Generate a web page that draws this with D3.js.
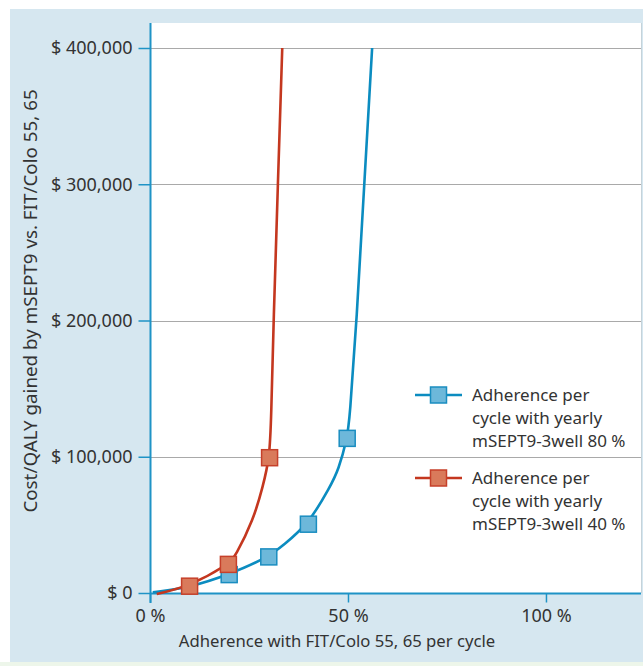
<!DOCTYPE html>
<html><head><meta charset="utf-8">
<script src="https://cdn.jsdelivr.net/npm/d3@7"></script>
<style>body{margin:0;background:#fff}svg{display:block}text{font-family:"Noto Sans",sans-serif;fill:#333}</style>
</head><body>
<svg id="c" width="643" height="666"></svg>
<script>
// ---- data ----
const yTicks = [0, 100000, 200000, 300000, 400000];
const xTicks = [0, 50, 100];
const seriesNames = ["Adherence per cycle with yearly mSEPT9-3well 80 %", "Adherence per cycle with yearly mSEPT9-3well 40 %"];
// markers (adherence %, cost/QALY $)
const blueMarkers = [[20, 13500], [30, 26500], [40, 50500], [49.8, 113500]];
const redMarkers = [[10, 5000], [19.8, 21000], [30.2, 99300]];
// traced curve points
const blueCurve = [[0.7, 500], [10, 4000], [20, 13500], [30, 26500], [33.7, 35200], [40, 50500], [45.5, 78000], [47.6, 90300], [49.8, 113500], [50.4, 127000], [52.2, 200000], [54.1, 300000], [56.1, 400000]];
const redCurve = [[1.7, -700], [10, 5000], [19.8, 21000], [21.5, 26600], [26.1, 53600], [28.5, 78000], [30.2, 99300], [30.6, 127000], [31.2, 200000], [32.3, 300000], [33.4, 400000]];

const svg = d3.select("#c");
const BLUE = "#0b8cc0", RED = "#c4371f";
const axisBlue = "#1f93c6";

svg.append("rect").attr("x", 0).attr("y", 0).attr("width", 643).attr("height", 666).attr("fill", "#fff");
svg.append("rect").attr("x", 0).attr("y", 662).attr("width", 643).attr("height", 4).attr("fill", "#edf6ea");
svg.append("rect").attr("x", 10).attr("y", 9).attr("width", 633).attr("height", 653).attr("fill", "#d6e7f0");

const x = d3.scaleLinear().domain([0, 124]).range([150, 641]);
const y = d3.scaleLinear().domain([0, 400000]).range([593, 48]);

svg.append("rect").attr("x", 150).attr("y", 23).attr("width", 491).attr("height", 570).attr("fill", "#fff");
svg.append("line").attr("x1", 641.5).attr("x2", 641.5).attr("y1", 23).attr("y2", 593).attr("stroke", "#c5d3da");

// gridlines
svg.append("g").selectAll("line").data(yTicks.filter(d => d > 0)).join("line")
  .attr("x1", 150).attr("x2", 641).attr("y1", d => Math.round(y(d)) + 0.5).attr("y2", d => Math.round(y(d)) + 0.5)
  .attr("stroke", "#a9a9a9").attr("stroke-width", 1.2);

// y axis
const yAxis = d3.axisLeft(y).tickValues(yTicks).tickSize(12).tickPadding(6)
  .tickFormat(d => "$ " + d3.format(",")(d));
const gy = svg.append("g").attr("transform", "translate(150.5,0)").call(yAxis);
gy.select(".domain").remove();
gy.selectAll(".tick line").attr("stroke", axisBlue).attr("stroke-width", 1.5);
gy.selectAll(".tick text").attr("font-size", 18).attr("fill", "#333").attr("font-family", "Noto Sans");
svg.append("line").attr("x1", 150.5).attr("x2", 150.5).attr("y1", 23).attr("y2", 603).attr("stroke", axisBlue).attr("stroke-width", 2);

// x axis
const xAxis = d3.axisBottom(x).tickValues(xTicks).tickSize(9).tickPadding(7).tickFormat(d => d + " %");
const gx = svg.append("g").attr("transform", "translate(0,593.5)").call(xAxis);
gx.select(".domain").remove();
gx.selectAll(".tick line").attr("stroke", axisBlue).attr("stroke-width", 1.5);
gx.selectAll(".tick text").attr("font-size", 18).attr("fill", "#333").attr("font-family", "Noto Sans");
svg.append("line").attr("x1", 150).attr("x2", 641).attr("y1", 593.5).attr("y2", 593.5).attr("stroke", axisBlue).attr("stroke-width", 2);

// titles
svg.append("text").attr("x", 337).attr("y", 647).attr("text-anchor", "middle").attr("font-size", 16.7)
  .text("Adherence with FIT/Colo 55, 65 per cycle");
svg.append("text").attr("transform", "translate(37,301) rotate(-90)").attr("text-anchor", "middle").attr("font-size", 18.8)
  .text("Cost/QALY gained by mSEPT9 vs. FIT/Colo 55, 65");

// lines
const line = d3.line().x(d => x(d[0])).y(d => y(d[1])).curve(d3.curveBasis);
svg.append("path").datum(blueCurve).attr("d", line).attr("fill", "none").attr("stroke", BLUE).attr("stroke-width", 2.6);
svg.append("path").datum(redCurve).attr("d", line).attr("fill", "none").attr("stroke", RED).attr("stroke-width", 2.6);

const S = 16;
function markers(data, fill, stroke) {
  svg.append("g").selectAll("rect").data(data).join("rect")
    .attr("x", d => x(d[0]) - S / 2).attr("y", d => y(d[1]) - S / 2)
    .attr("width", S).attr("height", S).attr("fill", fill).attr("stroke", stroke).attr("stroke-width", 1.5);
}
markers(blueMarkers, "#6db8da", "#1a8dc0");
markers(redMarkers, "#d97a5b", "#c6402a");

// legend
const legend = [
  {name: seriesNames[0], color: BLUE, fill: "#6db8da", stroke: "#1a8dc0", y: 395},
  {name: seriesNames[1], color: RED, fill: "#d97a5b", stroke: "#c6402a", y: 478}
];
legend.forEach(l => {
  const g = svg.append("g");
  g.append("line").attr("x1", 415).attr("x2", 462).attr("y1", l.y).attr("y2", l.y).attr("stroke", l.color).attr("stroke-width", 2.6);
  g.append("rect").attr("x", 438.5 - S / 2).attr("y", l.y - S / 2).attr("width", S).attr("height", S)
    .attr("fill", l.fill).attr("stroke", l.stroke).attr("stroke-width", 1.5);
  const words = ["Adherence per", "cycle with yearly", l.name.replace("Adherence per cycle with yearly ", "")];
  words.forEach((w, i) => g.append("text").attr("x", 472).attr("y", l.y + 6 + i * 23).attr("font-size", 17).text(w));
});
</script>
</body></html>
